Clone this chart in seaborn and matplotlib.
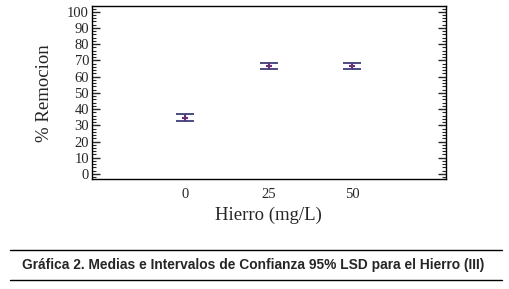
# Medias e intervalos LSD 95% - Hierro

import numpy as np
import pandas as pd
import matplotlib
matplotlib.use("Agg")
import matplotlib.pyplot as plt
import seaborn as sns
from matplotlib.ticker import MultipleLocator

# data
hierro = [0, 25, 50]
media = [34.7, 66.5, 66.8]
lsd_inf = [32.5, 64.7, 65.0]
lsd_sup = [37.0, 68.3, 68.5]

df = pd.DataFrame({"Hierro": hierro, "Media": media,
                   "Inf": lsd_inf, "Sup": lsd_sup})

sns.set_style("ticks")
plt.rcParams["font.family"] = ["Liberation Serif", "DejaVu Serif"]

fig = plt.figure(figsize=(5.1, 2.89), dpi=100)
ax = fig.add_axes([0.18, 0.379, 0.694, 0.6])

# intervals
ax.errorbar(df["Hierro"], df["Media"],
            yerr=[df["Media"] - df["Inf"], df["Sup"] - df["Media"]],
            fmt="none", ecolor="#2b2d6e", elinewidth=0.8,
            capsize=6.5, capthick=1.2, zorder=2)

# means
sns.scatterplot(data=df, x="Hierro", y="Media", ax=ax,
                marker="+", s=16, color="#6a2f7a", linewidth=1.5,
                zorder=3)

ax.set_xlim(-28, 78)
ax.set_ylim(-3.4, 103.5)
ax.set_xticks(hierro)
ax.yaxis.set_major_locator(MultipleLocator(10))
ax.yaxis.set_minor_locator(MultipleLocator(2))

ax.tick_params(axis="y", which="major", direction="in", length=6,
               width=1, left=True, right=True, labelsize=10.5, pad=2)
ax.tick_params(axis="y", which="minor", direction="in", length=3,
               width=0.8, left=True, right=True)
ax.tick_params(axis="x", length=0, labelsize=10.5, pad=6)

for s in ax.spines.values():
    s.set_linewidth(1.0)
    s.set_color("black")

ax.set_xlabel("Hierro (mg/L)", fontsize=13.5, labelpad=4)
ax.set_ylabel("% Remocion", fontsize=13.5, labelpad=10)

# caption with rules
fig.add_artist(plt.Line2D([0.02, 0.985], [1 - 250 / 289, 1 - 250 / 289],
                          color="black", linewidth=1.0))
fig.add_artist(plt.Line2D([0.02, 0.985], [1 - 279.5 / 289, 1 - 279.5 / 289],
                          color="black", linewidth=1.0))
fig.text(0.496, 1 - 264.5 / 289,
         "Gráfica 2. Medias e Intervalos de Confianza 95% LSD para el Hierro (III)",
         ha="center", va="center", fontsize=9.9, fontweight="bold",
         family=["Liberation Sans", "DejaVu Sans"])

fig.savefig("out.png", dpi=100)
